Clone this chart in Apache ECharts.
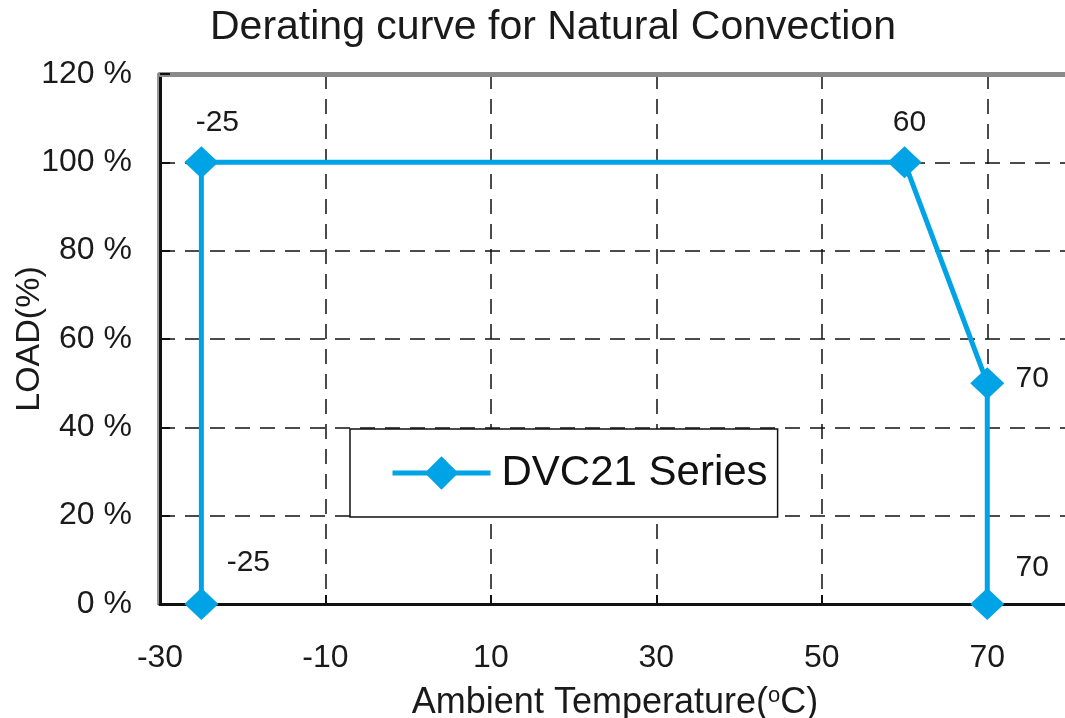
<!DOCTYPE html>
<html>
<head>
<meta charset="utf-8">
<script src="https://cdn.jsdelivr.net/npm/echarts@6/dist/echarts.min.js"></script>
<style>
html,body{margin:0;padding:0;background:#fff;}
#chart{width:1065px;height:718px;}
</style>
</head>
<body>
<div id="chart"></div>
<script>
const seriesName = 'DVC21 Series';
const temps = [-25, -25, 60, 70, 70];
const loads = [0, 100, 100, 50, 0];
const pointLabels = ['-25', '-25', '60', '70', '70'];
const labelOffsets = [[47, -41], [16, -40], [5, -40], [45, -4], [45, -36]];

const FONT = 'Arial, "Liberation Sans", sans-serif';
const BLUE = '#00A3E6';

const chart = echarts.init(document.getElementById('chart'));
const data = temps.map((t, i) => ({
  value: [t, loads[i]],
  label: {
    show: true,
    position: 'inside',
    offset: labelOffsets[i],
    formatter: pointLabels[i],
    fontSize: 30,
    fontFamily: FONT,
    color: '#1a1a1a'
  }
}));

chart.setOption({
  animation: false,
  backgroundColor: '#fff',
  title: {
    text: 'Derating curve for Natural Convection',
    left: 205,
    top: 2,
    textStyle: { fontSize: 41, fontWeight: 'normal', color: '#1a1a1a', fontFamily: FONT }
  },
  legend: {
    left: 350,
    top: 429,
    orient: 'horizontal',
    data: [seriesName],
    padding: [23, 10, 23, 40],
    itemWidth: 98,
    itemHeight: 42,
    itemGap: 0,
    backgroundColor: '#fff',
    borderColor: '#111',
    borderWidth: 1.5,
    borderRadius: 0,
    lineStyle: { width: 5, color: BLUE },
    textStyle: { fontSize: 42, color: '#111', fontFamily: FONT, padding: [0, 0, 0, 6] }
  },
  grid: { left: 160, right: -5, top: 74, bottom: 114, containLabel: false, outerBoundsMode: 'none' },
  xAxis: [{
    type: 'value',
    min: -30, max: 80, interval: 20,
    name: 'Ambient Temperature({sup|o}C)',
    nameLocation: 'middle',
    nameGap: 81,
    nameMoveOverlap: false,
    nameTextStyle: {
      fontSize: 36, lineHeight: 36, color: '#1a1a1a', fontFamily: FONT,
      rich: { sup: { fontSize: 22, lineHeight: 12, verticalAlign: 'top', color: '#1a1a1a', fontFamily: FONT } }
    },
    axisLine: { show: true, onZero: false, lineStyle: { color: '#111', width: 3 } },
    axisTick: { show: true, inside: true, length: 9, lineStyle: { color: '#111', width: 2 } },
    axisLabel: { fontSize: 32, color: '#1a1a1a', fontFamily: FONT, margin: 38, showMaxLabel: false },
    splitLine: { show: true, lineStyle: { color: '#111', width: 1.5, type: [15, 10] } }
  }, {
    type: 'value',
    position: 'top',
    min: -30, max: 80, interval: 20,
    axisLine: { show: true, onZero: false, lineStyle: { color: '#8a8a8a', width: 5 } },
    axisTick: { show: false },
    axisLabel: { show: false },
    splitLine: { show: false }
  }],
  yAxis: {
    type: 'value',
    min: 0, max: 120, interval: 20,
    name: 'LOAD(%)',
    nameLocation: 'middle',
    nameGap: 113,
    nameMoveOverlap: false,
    nameTextStyle: { fontSize: 34, color: '#1a1a1a', fontFamily: FONT },
    axisLine: { show: true, onZero: false, lineStyle: { color: '#111', width: 3, shadowColor: '#999', shadowOffsetX: -2 } },
    axisTick: { show: true, inside: true, length: 10, lineStyle: { color: '#111', width: 2 } },
    axisLabel: { fontSize: 32, color: '#1a1a1a', fontFamily: FONT, margin: 28, formatter: '{value} %' },
    splitLine: { show: true, lineStyle: { color: '#111', width: 1.5, type: [15, 10] } }
  },
  series: [{
    name: seriesName,
    type: 'line',
    xAxisIndex: 0,
    data: data,
    symbol: 'diamond',
    symbolSize: [34, 32],
    showAllSymbol: true,
    clip: false,
    lineStyle: { color: BLUE, width: 5 },
    itemStyle: { color: BLUE, borderWidth: 0 },
    z: 5
  }]
});
</script>
</body>
</html>
